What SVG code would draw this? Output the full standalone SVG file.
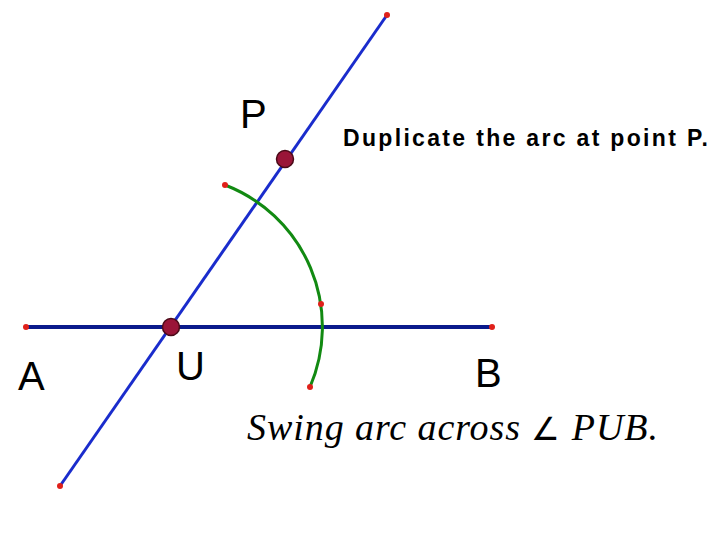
<svg xmlns="http://www.w3.org/2000/svg" width="720" height="540" viewBox="0 0 720 540">
<style>
.lbl{font-family:"Liberation Sans",Arial,sans-serif;font-size:40px;fill:#000}
.dot{fill:#e0201a}
.big{fill:#9a1538;stroke:#4a0a18;stroke-width:1.5}
</style>
<rect width="720" height="540" fill="#fff"/>
<g id="connectors">
<line x1="26" y1="327" x2="492" y2="327" stroke="#0a1a8c" stroke-width="4"/>
<line x1="60" y1="486" x2="387" y2="15" stroke="#1a2ccc" stroke-width="3"/>
<path d="M225,185 A152,152 0 0 1 310,387" fill="none" stroke="#128a12" stroke-width="3"/>
</g>
<g id="points">
<circle class="dot" cx="26" cy="327" r="3"/>
<circle class="dot" cx="492" cy="327" r="3"/>
<circle class="dot" cx="60" cy="486" r="3"/>
<circle class="dot" cx="387" cy="15" r="3"/>
<circle class="dot" cx="225" cy="185" r="3"/>
<circle class="dot" cx="321" cy="304" r="3"/>
<circle class="dot" cx="310" cy="387" r="3"/>
</g>
<g id="U"><circle class="big" cx="171" cy="327" r="8.5"/><text class="lbl" x="176" y="380">U</text></g>
<g id="P"><circle class="big" cx="285" cy="159" r="8.5"/><text class="lbl" x="240" y="128">P</text></g>
<g id="A"><text class="lbl" x="18" y="390">A</text></g>
<g id="B"><text class="lbl" x="475" y="387">B</text></g>
<text x="343" y="146" font-family="Liberation Sans,Arial,sans-serif" font-weight="bold" font-size="23" textLength="365" lengthAdjust="spacing">Duplicate the arc at point P.</text>
<text x="247" y="440" font-family="Liberation Serif,'Times New Roman',serif" font-style="italic" font-size="38" textLength="411" lengthAdjust="spacing">Swing arc across  <tspan font-style="normal" font-size="32">∠</tspan> PUB.</text>
</svg>
